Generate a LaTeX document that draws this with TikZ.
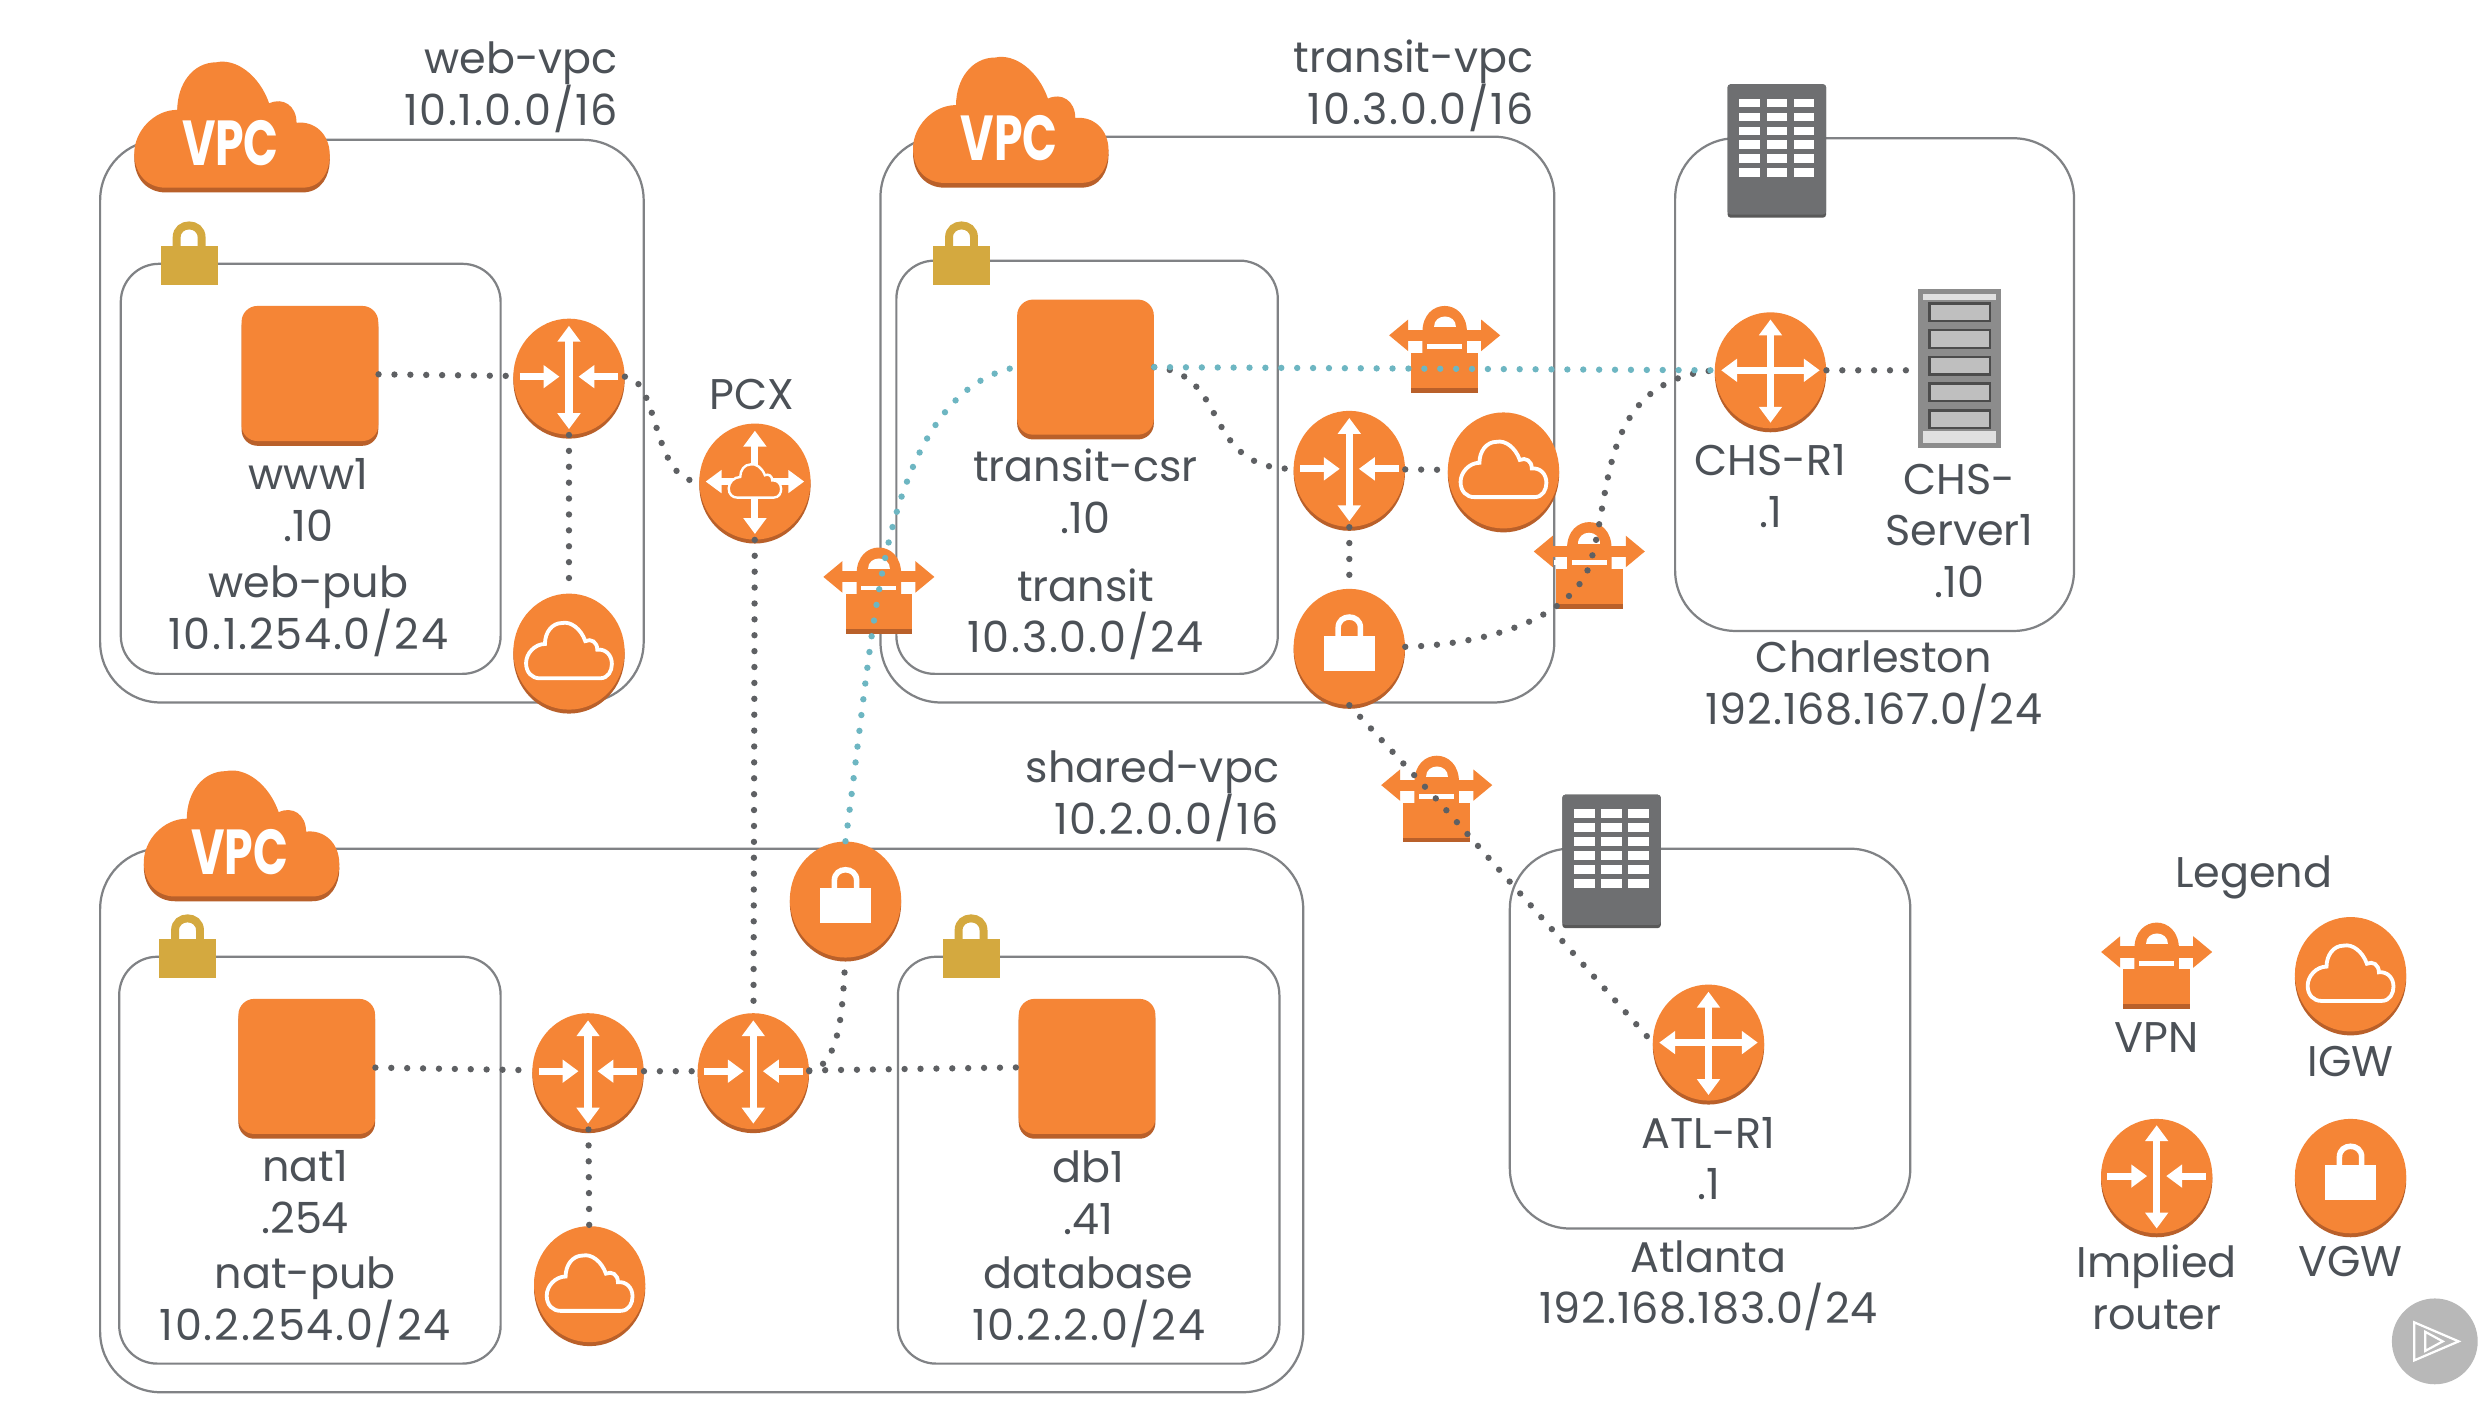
\documentclass[tikz,border=0pt]{standalone}
\usepackage{fontspec}
\setmainfont{Poppins}
\usepackage{tikz}
\usetikzlibrary{arrows.meta,shapes.geometric}

\definecolor{awsorange}{HTML}{F58536}
\definecolor{awsdark}{HTML}{B9602A}
\definecolor{lockgold}{HTML}{D4A93F}
\definecolor{boxgray}{HTML}{808285}
\definecolor{textgray}{HTML}{4C5157}
\definecolor{linkgray}{HTML}{5E6063}
\definecolor{linkblue}{HTML}{6DB6C2}
\definecolor{bldggray}{HTML}{6E6F71}

\newcommand{\addr}[2][4]{{\addfontfeatures{LetterSpace=#1}#2}}

\tikzset{
  vpcbox/.style={draw=boxgray,line width=1.4pt,rounded corners=38pt},
  subnetbox/.style={draw=boxgray,line width=1.4pt,rounded corners=24pt},
  disc/.style={ellipse,fill=awsorange,minimum width=70pt,minimum height=73pt,inner sep=0pt,
    preaction={fill=awsdark,transform canvas={yshift=-2.5pt}}},
  instance/.style={rectangle,rounded corners=10pt,fill=awsorange,minimum width=86pt,minimum height=85pt,inner sep=0pt,
    preaction={fill=awsdark,transform canvas={yshift=-3pt}}},
  lbl/.style={font=\fontsize{27}{32.5}\selectfont,text=textgray,align=center,inner sep=0pt},
  rlbl/.style={lbl,align=right,anchor=east},
  vpclogo/.style={inner sep=0pt,text=white,font=\fontsize{40}{40}\selectfont\bfseries},
  link/.style={draw=linkgray,line width=4pt,line cap=round,dash pattern=on 0pt off 10pt},
  bluelink/.style={link,draw=linkblue},
  whitearrow/.style={draw=white,line width=4.5pt,{Triangle[length=10pt,width=14pt]}-{Triangle[length=10pt,width=14pt]}},
  inarrow/.style={draw=white,line width=4.5pt,-{Triangle[length=10pt,width=14pt]}},
  pics/cloudicon/.style={code={
    \path[pic actions] (-34,28) -- (36,28) .. controls (46,28) and (50,20) .. (50,13)
      .. controls (50,3) and (42,-3) .. (33,-2) .. controls (33,-10) and (26,-14) .. (19,-11)
      .. controls (14,-24) and (2,-32) .. (-8,-30) .. controls (-20,-30) and (-28,-20) .. (-28,-8)
      .. controls (-40,-8) and (-50,2) .. (-50,12) .. controls (-50,22) and (-43,28) .. (-34,28) -- cycle;
  }},
  pics/lockicon/.style={code={
    \path[pic actions,draw=none] (-16,0) rectangle (16,22);
    \path[pic actions,fill=none] (-7,2) -- (-7,-5) .. controls (-7,-14) and (7,-14) .. (7,-5) -- (7,2);
  }},
  pics/impliedarrows/.style={code={
    \draw[whitearrow] (0,-32) -- (0,33);
    \draw[inarrow] (-31,0) -- (-6,0);
    \draw[inarrow] (31,0) -- (6,0);
  }},
  pics/crossarrows/.style={code={
    \draw[whitearrow] (0,-32) -- (0,33);
    \draw[whitearrow] (-31,0) -- (31,0);
  }},
  pics/igwicon/.style={code={
    \pic[xscale=.54,yscale=.6,draw=white,line width=2.4pt] at (0,0) {cloudicon};
  }},
  pics/vgwicon/.style={code={
    \pic[fill=white,draw=white,line width=3.5pt] at (0,-7) {lockicon};
  }},
  pics/vpnicon/.style={code={
    \fill[awsorange] (-14,3) -- (-14,-11) .. controls (-14,-33) and (14,-33) .. (14,-11) -- (14,3) -- cycle;
    \fill[white] (-7,-14) .. controls (-7,-23) and (7,-23) .. (7,-14) -- cycle;
    \fill[awsdark] (-21,22) rectangle (21,27);
    \fill[awsorange] (-21,2) rectangle (21,24);
    \draw[awsorange,line width=7pt,{Triangle[length=12pt,width=19pt]}-{Triangle[length=12pt,width=19pt]}] (-35,-9) -- (35,-9);
    \draw[white,line width=3pt] (-22,-2) -- (-16,-2) (-11,-2) -- (11,-2) (16,-2) -- (22,-2);
  }},
  pics/bldgicon/.style={code={
    \fill[black!65,rounded corners=2pt] (-31,-42) rectangle (31,42);
    \fill[bldggray,rounded corners=2pt] (-31,-42) rectangle (31,40);
    \foreach \row in {0,...,5} {
      \foreach \col in {-17,0,17} {
        \fill[white] (\col-6.5,-33+\row*8.8) rectangle (\col+6.5,-27.5+\row*8.8);
      }
    }
  }},
  pics/servericon/.style={code={
    \fill[black!45] (-26,-50) rectangle (26,50);
    \fill[black!12] (-23,-47) rectangle (23,-43);
    \fill[black!12] (-23,39) rectangle (23,47);
    \foreach \row in {0,...,4} {
      \draw[black!70,fill=black!25,line width=1.5pt] (-19,-41+\row*16.8) rectangle (19,-30+\row*16.8);
    }
  }},
}

\begin{document}
\begin{tikzpicture}[x=1pt,y=-1pt]
\useasboundingbox (0,0) rectangle (1568,888);
\fill[white] (0,0) rectangle (1568,888);

% vpc and site outlines
\draw[vpcbox] (63,88) rectangle (405,442);
\draw[vpcbox] (554,86) rectangle (978,442);
\draw[vpcbox] (63,534) rectangle (820,876);
\draw[vpcbox] (1054,87) rectangle (1305,397);
\draw[vpcbox] (950,534) rectangle (1202,773);

% subnet outlines
\draw[subnetbox] (76,166) rectangle (315,424);
\draw[subnetbox] (564,164) rectangle (804,424);
\draw[subnetbox] (75,602) rectangle (315,858);
\draw[subnetbox] (565,602) rectangle (805,858);

% vpc clouds
\foreach \cx/\cy in {146/80,636/77,152/526} {
  \pic[xscale=1.23,yscale=1.36,fill=awsdark] at (\cx,\cy+3) {cloudicon};
  \pic[xscale=1.23,yscale=1.36,fill=awsorange] at (\cx,\cy) {cloudicon};
}
\node[vpclogo] (webvpclogo) at (145,90) {\scalebox{.72}[1]{VPC}};
\node[vpclogo] (transitvpclogo) at (635,87) {\scalebox{.72}[1]{VPC}};
\node[vpclogo] (sharedvpclogo) at (151,536) {\scalebox{.72}[1]{VPC}};

% subnet locks
\foreach \lx/\ly in {119/155,605/155,118/591,611/591} {
  \pic[scale=1.12,fill=lockgold,draw=lockgold,line width=5pt] at (\lx,\ly) {lockicon};
}

% instances
\node[instance] (www1) at (195,235) {};
\node[instance] (csr) at (683,231) {};
\node[instance] (nat1) at (193,671) {};
\node[instance] (db1) at (684,671) {};

% routers
\node[disc] (webrt) at (358,237) {};
\pic at (webrt) {impliedarrows};
\node[disc] (transitrt) at (849,295) {};
\pic at (transitrt) {impliedarrows};
\node[disc] (natrt) at (370,674) {};
\pic at (natrt) {impliedarrows};
\node[disc] (dbrt) at (474,674) {};
\pic at (dbrt) {impliedarrows};
\node[disc] (chsrt) at (1114,233) {};
\pic at (chsrt) {crossarrows};
\node[disc] (atlrt) at (1075,656) {};
\pic at (atlrt) {crossarrows};
\node[disc] (pcx) at (475,303) {};
\pic at (pcx) {crossarrows};
\pic[xscale=.33,yscale=.36,fill=awsorange,draw=white,line width=1.5pt] at (pcx) {cloudicon};

% internet gateways
\node[disc] (webigw) at (358,410) {};
\pic at (webigw) {igwicon};
\node[disc] (transitigw) at (946,296) {};
\pic at (transitigw) {igwicon};
\node[disc] (natigw) at (371,808) {};
\pic at (natigw) {igwicon};

% vpn gateways
\node[disc] (transitvgw) at (849,407) {};
\pic at (transitvgw) {vgwicon};
\node[disc] (sharedvgw) at (532,566) {};
\pic at (sharedvgw) {vgwicon};

% vpn tunnels
\coordinate (vpntop) at (909,220);
\coordinate (vpnleft) at (553,372);
\coordinate (vpnright) at (1000,356);
\coordinate (vpnatl) at (904,503);
\pic at (vpntop) {vpnicon};
\pic at (vpnleft) {vpnicon};
\pic at (vpnright) {vpnicon};
\pic at (vpnatl) {vpnicon};

% on premises gear
\pic at (1118,95) {bldgicon};
\pic at (1014,542) {bldgicon};
\pic at (1233,232) {servericon};
\coordinate (chsserver) at (1205,233);

% dotted links
\draw[link] (www1) -- (webrt);
\draw[link] (webrt) -- (webigw);
\draw[link] (webrt.east) .. controls (415,238) and (410,303) .. (pcx.west);
\draw[link] (pcx) -- (dbrt);
\draw[link] (nat1) -- (natrt);
\draw[link] (natrt) -- (dbrt);
\draw[link] (dbrt) -- (db1);
\draw[link] (natrt) -- (natigw);
\draw[link] (dbrt.east) .. controls (530,670) and (530,630) .. (sharedvgw.south);
\draw[link] (csr.east) .. controls (775,235) and (755,295) .. (transitrt.west);
\draw[link] (transitrt) -- (transitigw);
\draw[link] (transitrt) -- (transitvgw);
\draw[link] (chsrt) -- (chsserver);
\draw[link] (transitvgw.east) .. controls (945,405) and (990,385) .. (vpnright) .. controls (1015,310) and (1005,240) .. (chsrt.west);
\draw[link] (transitvgw.south) -- (vpnatl) -- (atlrt.west);

% blue tunnel links
\draw[bluelink] (csr.east) -- (chsrt.west);
\draw[bluelink] (sharedvgw.north) .. controls (540,470) and (546,410) .. (vpnleft) .. controls (565,300) and (590,240) .. (csr.west);

% vpc labels
\node[rlbl] (webvpclabel) at (389,55) {web-vpc\\\addr{10.1.0.0/16}};
\node[rlbl] (transitvpclabel) at (965,54) {transit-vpc\\\addr{10.3.0.0/16}};
\node[rlbl] (sharedvpclabel) at (805,501) {shared-vpc\\\addr{10.2.0.0/16}};

% subnet and host labels
\node[lbl] (webpublabel) at (194,351) {www1\\.10\\[3pt]web-pub\\\addr{10.1.254.0/24}};
\node[lbl] (transitlabel) at (683,349) {transit-csr\\.10\\[10pt]transit\\\addr{10.3.0.0/24}};
\node[lbl] (natpublabel) at (192,786) {nat1\\.254\\[2pt]nat-pub\\\addr{10.2.254.0/24}};
\node[lbl] (dblabel) at (685,786) {db1\\.41\\[2pt]database\\\addr{10.2.2.0/24}};
\node[lbl] (pcxlabel) at (473,248) {PCX};
\node[lbl] (chslabel) at (1114,306) {CHS-R1\\.1};
\node[lbl] (serverlabel) at (1233,334) {CHS-\\Server1\\.10};
\node[lbl] (chssite) at (1179,432) {Charleston\\\addr[2]{192.168.167.0/24}};
\node[lbl] (atllabel) at (1075,729) {ATL-R1\\.1};
\node[lbl] (atlsite) at (1075,809) {Atlanta\\\addr[2]{192.168.183.0/24}};

% legend
\node[lbl] (legendtitle) at (1418,552) {Legend};
\coordinate (legendvpn) at (1357,608);
\pic at (legendvpn) {vpnicon};
\node[lbl] (legendvpnlabel) at (1357,653) {VPN};
\node[disc,minimum height=72pt] (legendigw) at (1479,613) {};
\pic at (legendigw) {igwicon};
\node[lbl] (legendigwlabel) at (1479,668) {IGW};
\node[disc,minimum height=72pt] (legendrt) at (1357,740) {};
\pic at (legendrt) {impliedarrows};
\node[lbl] (legendrtlabel) at (1357,810) {Implied\\router};
\node[disc,minimum height=72pt] (legendvgw) at (1479,740) {};
\pic at (legendvgw) {vgwicon};
\node[lbl] (legendvgwlabel) at (1479,794) {VGW};

% player badge
\node[circle,fill=black!28,minimum size=54pt,inner sep=0pt] (badge) at (1532,844) {};
\draw[white,line width=1.4pt] (1519,832) -- (1547,844) -- (1519,856) -- cycle;
\draw[white,line width=1.4pt] (1526,838) -- (1537,844) -- (1526,850) -- cycle;

\end{tikzpicture}
\end{document}
